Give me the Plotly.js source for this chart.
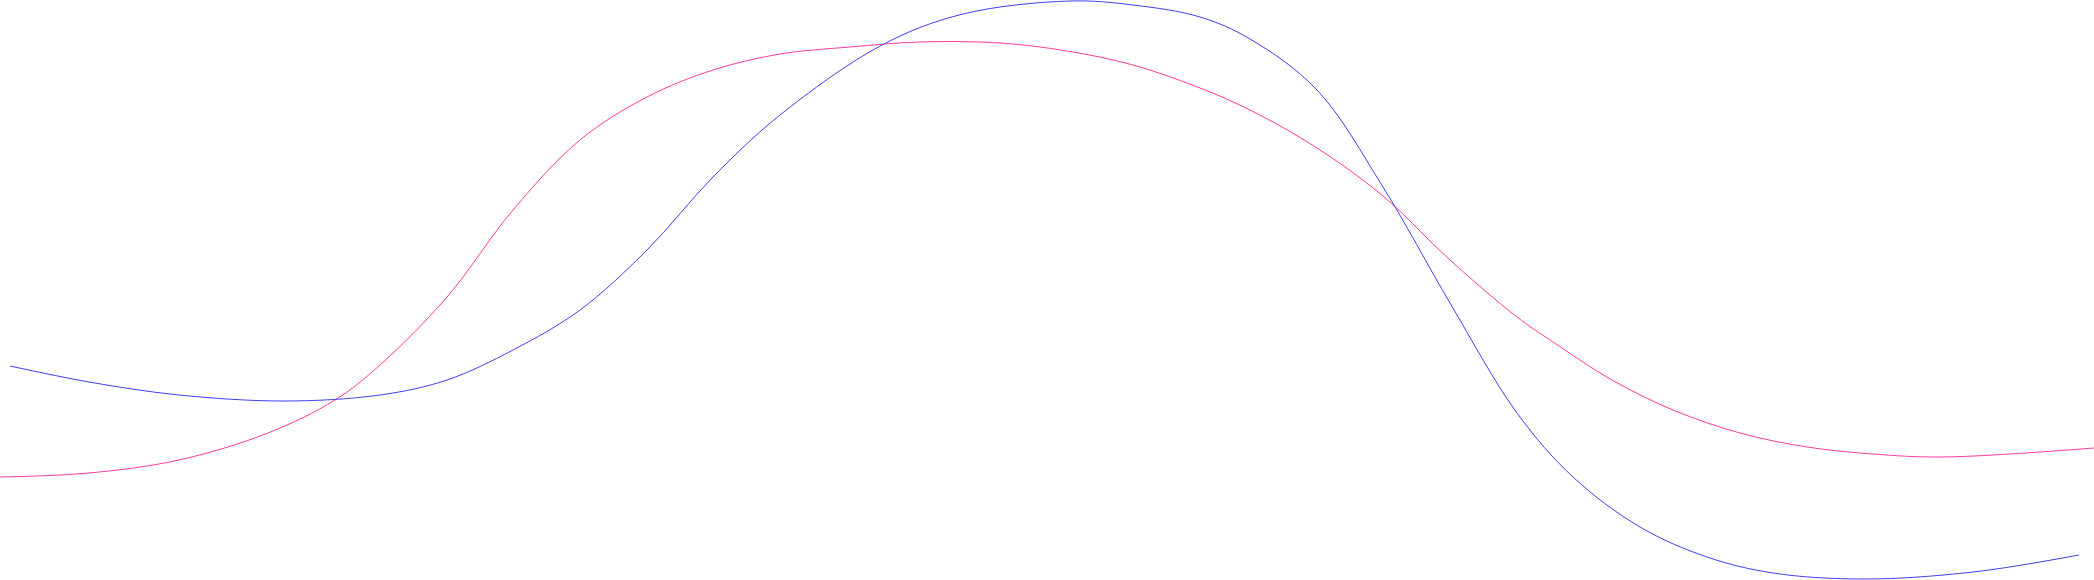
<!DOCTYPE html>
<html>
<head>
<meta charset="utf-8">
<script src="https://cdn.plot.ly/plotly-3.0.1.min.js"></script>
<style>
  html, body { margin: 0; padding: 0; background: #fff; }
  #waves { width: 2094px; height: 580px; }
</style>
</head>
<body>
<div id="waves"></div>
<script>
// points (x across, y down from the top edge)
var blue_x = [10, 89, 179, 285, 380, 447, 513, 580, 647, 713, 780, 882, 963, 1070, 1133, 1200, 1250, 1317, 1383, 1450, 1517, 1573, 1640, 1707, 1773, 1864, 1973, 2079]
var blue_y = [366, 382, 395, 401, 395, 380, 350, 310, 250, 177, 115, 45, 14, 1, 5, 17, 39, 90, 187, 303, 413, 477, 527, 557, 573, 579, 572, 555]

var pink_x = [0, 89, 179, 268, 335, 380, 447, 513, 580, 647, 713, 780, 850, 920, 1000, 1067, 1133, 1200, 1250, 1317, 1383, 1450, 1517, 1550, 1612, 1673, 1740, 1807, 1873, 1942, 2094]
var pink_y = [477, 473, 460, 433, 400, 365, 297, 210, 140, 97, 70, 54, 47, 42, 43, 51, 65, 88, 110, 148, 196, 260, 317, 340, 380, 410, 433, 447, 454, 457, 448]

var pink = {
    x: pink_x,
    y: pink_y,
    type: 'scatter',
    mode: 'lines',
    line: {color: '#ff3aa0', width: 1, shape: 'spline', smoothing: 1, simplify: false},
    hoverinfo: 'skip'
};

var blue = {
    x: blue_x,
    y: blue_y,
    type: 'scatter',
    mode: 'lines',
    line: {color: '#4040f5', width: 1, shape: 'spline', smoothing: 1, simplify: false},
    hoverinfo: 'skip'
};

var layout = {
    width: 2094,
    height: 580,
    margin: {t: 0, l: 0, r: 0, b: 0, pad: 0},
    paper_bgcolor: '#ffffff',
    plot_bgcolor: '#ffffff',
    showlegend: false,
    xaxis: {visible: false, range: [0, 2094], fixedrange: true},
    yaxis: {visible: false, range: [580, 0], fixedrange: true},
};

Plotly.newPlot('waves', [pink, blue], layout, {displayModeBar: false, staticPlot: true});
</script>
</body>
</html>
